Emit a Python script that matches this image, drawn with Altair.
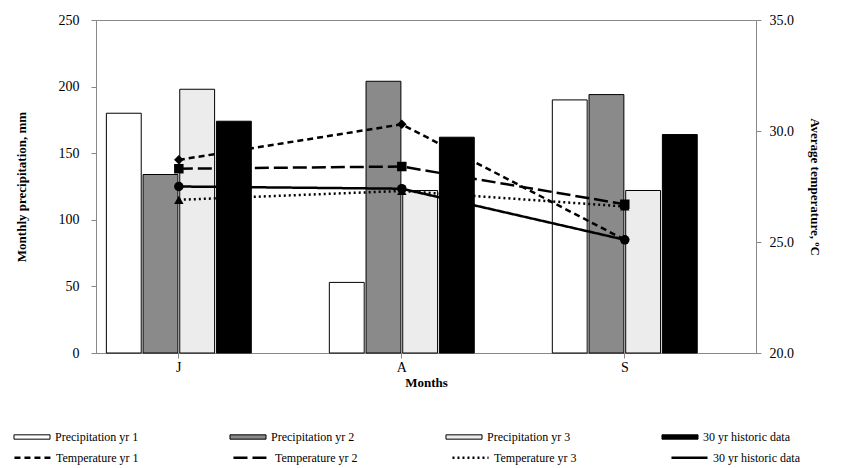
import altair as alt
import pandas as pd

months = ["J", "A", "S"]
bar_series = ["Precipitation yr 1", "Precipitation yr 2", "Precipitation yr 3", "30 yr historic data"]
precip = {
    "Precipitation yr 1": [180, 53, 190],
    "Precipitation yr 2": [134, 204, 194],
    "Precipitation yr 3": [198, 122, 122],
    "30 yr historic data": [174, 162, 164],
}
line_series = ["Temperature yr 1", "Temperature yr 2", "Temperature yr 3", "30 yr historic data "]
temps = {
    "Temperature yr 1": [28.7, 30.3, 25.1],
    "Temperature yr 2": [28.3, 28.4, 26.7],
    "Temperature yr 3": [26.9, 27.3, 26.6],
    "30 yr historic data ": [27.5, 27.4, 25.1],
}

bars_df = pd.DataFrame([
    {"month": m, "series": s, "value": v}
    for s in bar_series for m, v in zip(months, precip[s])
])
lines_df = pd.DataFrame([
    {"month": m, "series": s, "marker": s + ".", "value": v}
    for s in line_series for m, v in zip(months, temps[s])
])

FONT = "Liberation Serif"

x = alt.X("month:N", sort=months, title="Months",
          scale=alt.Scale(paddingInner=0.35, paddingOuter=0.155, align=0.15),
          axis=alt.Axis(labelAngle=0, titleFontWeight="bold",
                        titlePadding=2, domainColor="#888", tickColor="#888"))

bars = alt.Chart(bars_df).mark_bar(stroke="black", strokeWidth=1).encode(
    x=x,
    xOffset=alt.XOffset("series:N", sort=bar_series, scale=alt.Scale(paddingInner=0.05)),
    y=alt.Y("value:Q", title="Monthly precipitation, mm",
            scale=alt.Scale(domain=[0, 250]),
            axis=alt.Axis(values=[0, 50, 100, 150, 200, 250], grid=False, labelPadding=12,
                          titlePadding=30, titleFontWeight="bold", domainColor="#888", tickColor="#888")),
    fill=alt.Fill("series:N", sort=bar_series,
                  scale=alt.Scale(domain=bar_series, range=["white", "#8a8a8a", "#ececec", "black"]),
                  legend=alt.Legend(title=None, orient="none", legendX=-83, legendY=398,
                                    direction="horizontal", columns=4, columnPadding=85, gridAlign="all",
                                    symbolType="M-1,-0.12H1V0.12H-1Z", symbolSize=1300,
                                    symbolStrokeColor="black", symbolStrokeWidth=1, symbolOpacity=1,
                                    labelFontSize=12, labelFont=FONT)),
)

line_legend = alt.Legend(title=None, orient="none", legendX=-83, legendY=418,
                         direction="horizontal", columns=4, columnPadding=85, gridAlign="all",
                         symbolType="stroke", symbolSize=1300, symbolStrokeWidth=2.5,
                         labelFontSize=12, labelFont=FONT)

lines = alt.Chart(lines_df).mark_line(strokeWidth=2.5, point=alt.OverlayMarkDef(color="black", size=90, filled=True)).encode(
    x=x,
    y=alt.Y("value:Q", title="Average temperature, ºC",
            scale=alt.Scale(domain=[20, 35]),
            axis=alt.Axis(orient="right", values=[20, 25, 30, 35], format=".1f", labelPadding=8,
                          titlePadding=14, titleFontWeight="bold", grid=False,
                          domainColor="#888", tickColor="#888")),
    color=alt.Color("series:N", sort=line_series,
                    scale=alt.Scale(domain=line_series, range=["black"] * 4),
                    legend=line_legend),
    strokeDash=alt.StrokeDash("series:N", sort=line_series,
                              scale=alt.Scale(domain=line_series, range=[[6, 4], [14, 5], [2, 3], [1, 0]]),
                              legend=line_legend),
    shape=alt.Shape("marker:N",
                    scale=alt.Scale(domain=[s + "." for s in line_series],
                                    range=["diamond", "square", "triangle-up", "circle"]),
                    legend=None),
)

chart = alt.layer(bars, lines).resolve_scale(y="independent", fill="independent").properties(
    width=660, height=333,
).configure_view(stroke="#888").configure_axis(
    labelFont=FONT, titleFont=FONT, labelFontSize=14, titleFontSize=13, labelColor="black", titleColor="black"
)

chart.save("out.html", embed_options={"renderer": "svg", "actions": False})
